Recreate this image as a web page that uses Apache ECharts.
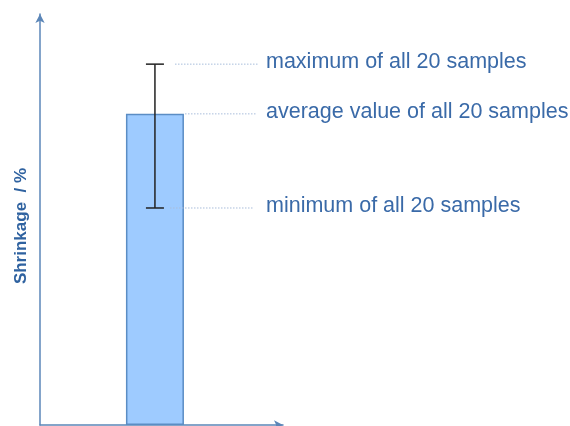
<!DOCTYPE html>
<html>
<head>
<meta charset="utf-8">
<script src="https://cdn.jsdelivr.net/npm/echarts@6/dist/echarts.min.js"></script>
<style>
  html, body { margin: 0; padding: 0; background: #fff; }
  #chart { width: 570px; height: 426px; }
</style>
</head>
<body>
<div id="chart"></div>
<script>
// schematic: one bar (average) with min/max whisker
const categories = ['20 samples'];
const avgValues = [75.7];
const maxValues = [87.8];
const minValues = [52.8];

// annotation texts, one per marker (max, average, min)
const annotationTexts = [
  'maximum of all 20 samples',
  'average value of all 20 samples',
  'minimum of all 20 samples',
];
const annotationValues = [maxValues[0], avgValues[0], minValues[0]];

// layout (pixels / axis position)
const BAR_X = 47.3;
const leaderLines = [
  { x1: 175, x2: 258 },
  { x1: 185, x2: 256 },
  { x1: 170, x2: 253 },
];
const TEXT_X = 266;

const chart = echarts.init(document.getElementById('chart'));

const axisBlue = '#5b86b8';

const option = {
  animation: false,
  grid: { left: 40, right: 287, top: 14, bottom: 1 },
  xAxis: {
    type: 'value',
    min: 0,
    max: 100,
    axisLine: {
      show: true,
      lineStyle: { color: axisBlue, width: 1.5 },
      symbol: ['none', 'arrow'],
      symbolSize: [7, 9],
    },
    axisTick: { show: false },
    axisLabel: { show: false },
    splitLine: { show: false },
  },
  yAxis: {
    type: 'value',
    min: 0,
    max: 100,
    name: 'Shrinkage  / %',
    nameLocation: 'middle',
    nameGap: 10,
    nameTextStyle: {
      color: '#2f62a0',
      fontSize: 17,
      fontWeight: 'bold',
      fontFamily: 'Liberation Sans, Arial, sans-serif',
      padding: [0, 13, 0, 0],
    },
    axisLine: {
      show: true,
      lineStyle: { color: axisBlue, width: 1.5 },
      symbol: ['none', 'arrow'],
      symbolSize: [7, 9],
    },
    axisTick: { show: false },
    axisLabel: { show: false },
    splitLine: { show: false },
  },
  series: [
    {
      name: categories[0],
      type: 'bar',
      data: avgValues.map((v) => [BAR_X, v]),
      barWidth: 58,
      itemStyle: {
        color: '#9ecbff',
        borderColor: '#5b8dc4',
        borderWidth: 1.5,
      },
      z: 2,
    },
    {
      // whisker min..max
      type: 'custom',
      data: minValues.map((v, i) => [BAR_X, v, maxValues[i]]),
      renderItem(params, api) {
        const lo = api.coord([api.value(0), api.value(1)]);
        const hi = api.coord([api.value(0), api.value(2)]);
        const half = 9;
        const style = { stroke: '#222', lineWidth: 1.5 };
        return {
          type: 'group',
          children: [
            { type: 'line', shape: { x1: lo[0], y1: lo[1], x2: hi[0], y2: hi[1] }, style },
            { type: 'line', shape: { x1: hi[0] - half, y1: hi[1], x2: hi[0] + half, y2: hi[1] }, style },
            { type: 'line', shape: { x1: lo[0] - half, y1: lo[1], x2: lo[0] + half, y2: lo[1] }, style },
          ],
        };
      },
      z: 3,
    },
    {
      // dotted leaders + annotation text
      type: 'custom',
      data: annotationValues.map((v, i) => [0, v, i]),
      clip: false,
      renderItem(params, api) {
        const y = api.coord([0, api.value(1)])[1];
        const idx = api.value(2);
        const seg = leaderLines[idx];
        return {
          type: 'group',
          children: [
            {
              type: 'line',
              shape: { x1: seg.x1, y1: y, x2: seg.x2, y2: y },
              style: { stroke: '#a9bedb', lineWidth: 1, lineDash: [1.5, 1.5] },
            },
            {
              type: 'text',
              x: TEXT_X,
              y: y - 2,
              style: {
                text: annotationTexts[idx],
                fill: '#3a6aa8',
                font: '21.5px "Liberation Sans", Arial, sans-serif',
                textAlign: 'left',
                textVerticalAlign: 'middle',
              },
            },
          ],
        };
      },
      z: 4,
    },
  ],
};

chart.setOption(option);
</script>
</body>
</html>
